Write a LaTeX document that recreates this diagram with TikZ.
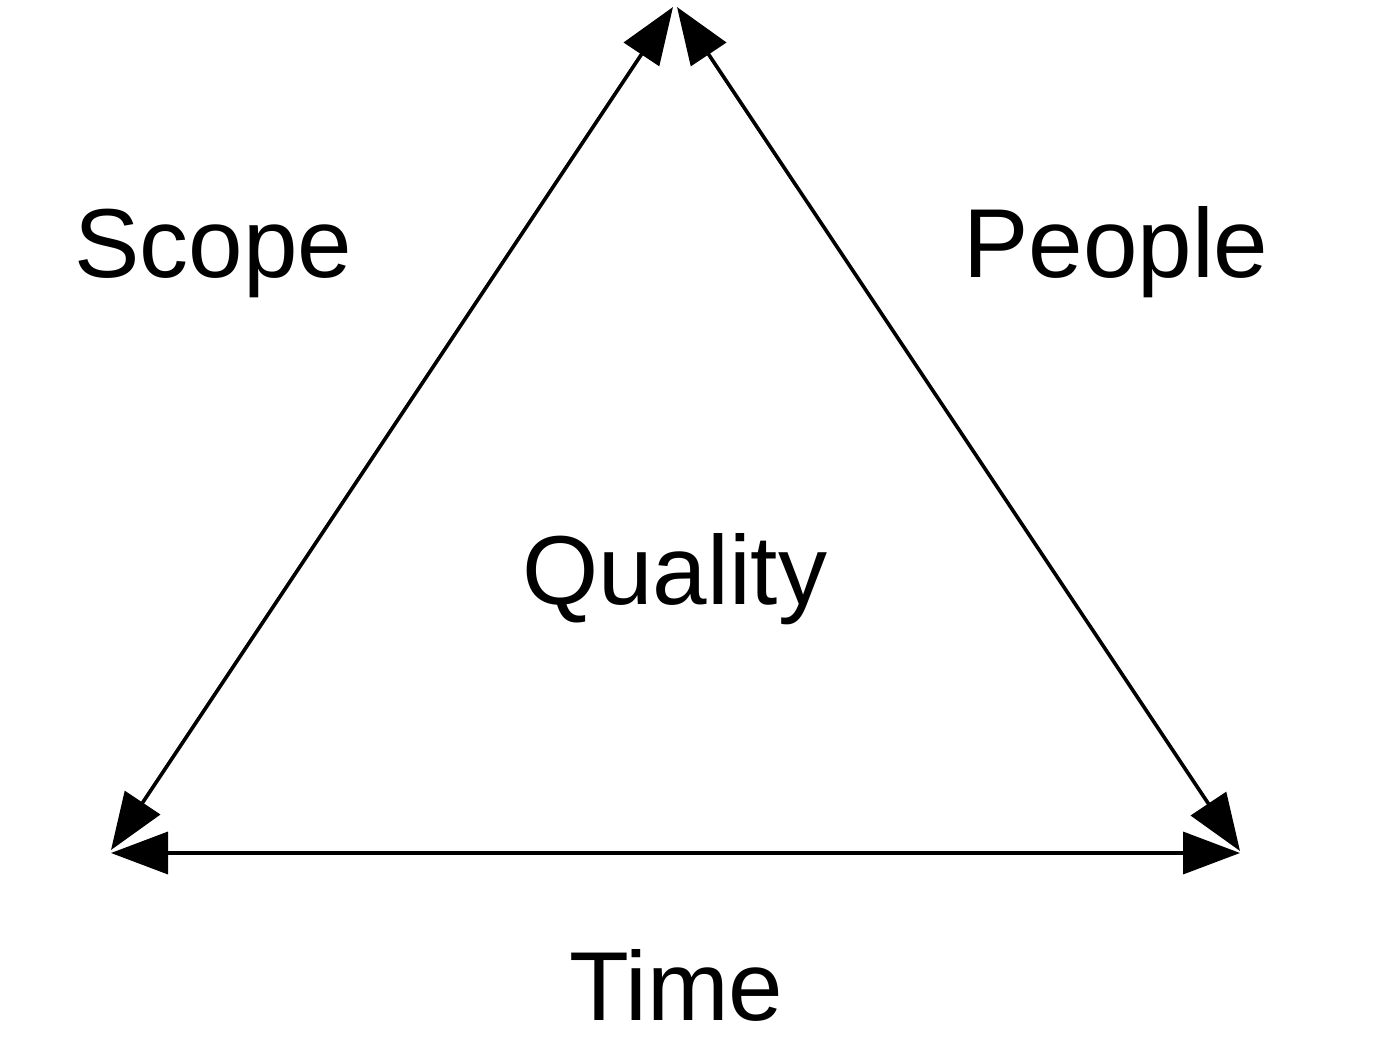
\documentclass[tikz,border=0pt]{standalone}
\usepackage{fontspec}
\setmainfont{Liberation Sans}
\usetikzlibrary{arrows.meta}
\tikzset{
  edge/.style={line width=3.6pt, {Triangle[length=57pt,width=42pt]}-{Triangle[length=57pt,width=42pt]}},
  lbl/.style={anchor=base west, inner sep=0pt, font=\fontsize{98}{112}\selectfont}
}
\begin{document}
\begin{tikzpicture}[x=1pt,y=-1pt]
\useasboundingbox (0,0) rectangle (1387,1049);
\coordinate (topL) at (673,7);
\coordinate (topR) at (677,7);
\coordinate (botLd) at (111,850);
\coordinate (botRd) at (1240,851);
\coordinate (botLh) at (111,853);
\coordinate (botRh) at (1240,853);
\draw[edge] (topL) -- (botLd);
\draw[edge] (topR) -- (botRd);
\draw[edge] (botLh) -- (botRh);
\node[lbl] (scope) at (74,277) {Scope};
\node[lbl] (people) at (963,277) {People};
\node[lbl] (quality) at (522,604) {Quality};
\node[lbl] (time) at (569,1020) {Time};
\end{tikzpicture}
\end{document}
